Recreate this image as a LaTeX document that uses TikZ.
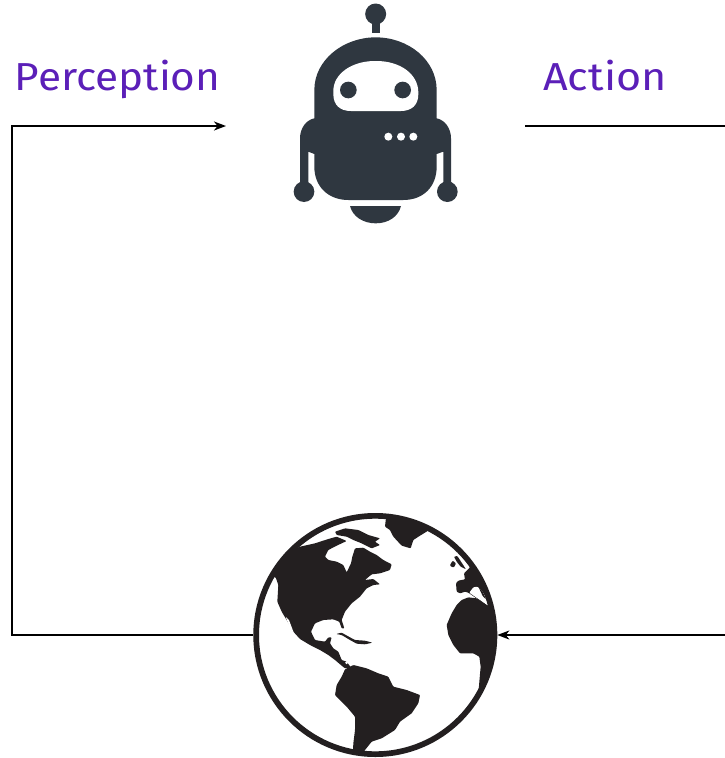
\documentclass[tikz,border=0pt]{standalone}
\usepackage{fontspec}
\usepackage{graphicx}
\setmainfont{Fira Sans}
\usetikzlibrary{arrows.meta}
\definecolor{robotc}{HTML}{2F3740}
\definecolor{earthc}{HTML}{231F20}
\definecolor{labelc}{HTML}{5B1FB8}
\tikzset{
  flow/.style={draw=black,line width=1.6pt},
  tip/.style={-{Stealth[length=12pt,width=9pt,inset=3.5pt]}},
  lab/.style={text=labelc,font=\fontsize{39}{41}\selectfont,inner sep=0pt,anchor=base west},
  land/.style={fill=earthc,draw=none,rounded corners=0.8pt},
  bot/.style={fill=robotc,draw=none},
  hole/.style={fill=white,draw=none,rounded corners=0.8pt},
  anchorbox/.style={minimum width=299pt,minimum height=200pt,inner sep=0pt,outer sep=0pt},
  ring/.style={circle,draw=earthc,line width=5.7pt,inner sep=0pt,minimum size=238.3pt}
}
\begin{document}
\begin{tikzpicture}[x=1pt,y=-1pt]
\path[use as bounding box,clip] (0,0) rectangle (725,758);
\fill[white] (0,0) rectangle (725,758);
% robot
\begin{scope}[shift={(280,0)},x=0.33333pt,y=-0.33333pt]
\fill[bot] (287,42) circle[radius=31.5pt*0.33333];
\fill[bot] (275,50) rectangle (299,99);
\fill[bot] (103,355) -- (103,270) .. controls (103,180) and (190,112) .. (287,112)
  .. controls (385,112) and (470,180) .. (470,270) -- (470,355)
  .. controls (495,360) and (513,385) .. (513,415) -- (513,560) -- (490,560) -- (490,455) -- (470,462) -- (470,500)
  .. controls (470,560) and (430,600) .. (370,600) -- (205,600)
  .. controls (145,600) and (103,560) .. (103,500) -- (103,462) -- (85,455) -- (85,560) -- (60,560) -- (60,415)
  .. controls (60,385) and (78,360) .. (103,355) -- cycle;
\fill[bot] (72,575) circle[radius=31pt*0.33333];
\fill[bot] (502,575) circle[radius=31pt*0.33333];
\fill[bot] (210,618) -- (363,618) .. controls (355,650) and (325,670) .. (287,670)
  .. controls (250,670) and (218,650) .. (210,618) -- cycle;
\fill[hole] (160,275) .. controls (160,222) and (215,183) .. (287,183)
  .. controls (360,183) and (415,222) .. (415,280)
  .. controls (415,315) and (395,333) .. (360,333) -- (215,333)
  .. controls (180,333) and (160,315) .. (160,280) -- cycle;
\fill[bot] (205,270) circle[radius=25pt*0.33333];
\fill[bot] (368,270) circle[radius=25pt*0.33333];
\fill[hole] (325,410) circle[radius=12pt*0.33333];
\fill[hole] (363,410) circle[radius=12pt*0.33333];
\fill[hole] (400,410) circle[radius=12pt*0.33333];
\end{scope}
% globe
\begin{scope}
\clip (375.3,635) circle[radius=120pt];
\begin{scope}[shift={(245,505)},x=0.33333pt,y=-0.33333pt]
% North America
\fill[land] (80,215) -- (92,217) -- (100,240) -- (97,290) -- (110,320) -- (125,345) -- (145,380) -- (165,402) -- (195,420) -- (225,435) -- (250,450) -- (270,465) -- (290,482) -- (300,490) -- (318,488) -- (305,470) -- (290,465) -- (280,440) -- (265,430) -- (255,415) -- (260,397) -- (250,397) -- (240,410) -- (210,405) -- (198,380) -- (210,355) -- (235,345) -- (265,343) -- (283,350) -- (290,370) -- (298,370) -- (290,345) -- (300,320) -- (320,295) -- (345,275) -- (365,250) -- (385,240) -- (405,238) -- (385,222) -- (360,225) -- (380,208) -- (405,205) -- (435,195) -- (440,178) -- (415,165) -- (395,150) -- (375,140) -- (355,128) -- (330,130) -- (322,155) -- (318,175) -- (305,202) -- (295,180) -- (275,170) -- (250,165) -- (240,155) -- (250,135) -- (275,122) -- (305,108) -- (275,95) -- (250,102) -- (210,115) -- (165,125) -- (100,150) -- cycle;
\fill[hole] (122,335) -- (132,345) -- (147,385) -- (133,365) -- cycle;
% Arctic islands
\fill[land] (270,80) -- (300,70) -- (340,75) -- (370,90) -- (405,100) -- (390,110) -- (405,120) -- (380,130) -- (350,115) -- (325,105) -- (305,95) -- (275,90) -- cycle;
% Greenland
\fill[land] (420,65) -- (425,20) -- (530,20) -- (548,78) -- (525,92) -- (505,105) -- (497,130) -- (470,122) -- (445,95) -- (435,75) -- cycle;
\end{scope}
% Caribbean and South America
\begin{scope}[shift={(300,610)},x=0.33333pt,y=-0.33333pt]
\fill[land] (108,72) -- (125,68) -- (150,82) -- (165,90) -- (195,92) -- (217,98) -- (195,103) -- (170,101) -- (150,90) -- (125,75) -- cycle;
\fill[land] (135,178) -- (160,165) -- (200,175) -- (235,190) -- (265,200) -- (280,230) -- (320,240) -- (360,255) -- (355,280) -- (335,310) -- (300,335) -- (285,360) -- (245,385) -- (215,395) -- (195,420) -- (175,450) -- (158,450) -- (160,400) -- (165,360) -- (165,320) -- (140,290) -- (105,255) -- (110,225) -- (125,200) -- cycle;
\fill[hole] (140,158) circle[radius=1.5pt];
\end{scope}
% Europe and Africa
\begin{scope}[shift={(440,550)},x=0.33333pt,y=-0.33333pt]
\fill[land] (30,45) -- (38,32) -- (48,40) -- (42,52) -- (33,50) -- cycle;
\fill[land] (42,20) -- (52,18) -- (65,38) -- (78,58) -- (62,50) -- (50,35) -- cycle;
\fill[land] (48,100) -- (55,92) -- (75,88) -- (72,70) -- (90,52) -- (85,35) -- (100,40) -- (180,100) -- (180,180) -- (145,170) -- (85,128) -- (75,125) -- (60,130) -- (50,125) -- cycle;
\fill[hole] (88,128) -- (100,112) -- (112,110) -- (125,122) -- (140,145) -- (150,172) -- (120,150) -- (105,140) -- cycle;
\fill[land] (116,112) -- (128,125) -- (138,148) -- (128,138) -- cycle;
\fill[land] (20,225) -- (35,190) -- (50,165) -- (65,150) -- (85,142) -- (110,145) -- (140,165) -- (165,175) -- (200,180) -- (200,400) -- (125,448) -- (115,432) -- (118,395) -- (122,350) -- (118,320) -- (100,310) -- (60,310) -- (40,285) -- (25,255) -- cycle;
\end{scope}
\end{scope}
% nodes
\node[ring] (globe) at (375.3,635) {};
\node[anchorbox] (robot) at (375.5,126) {};
\node[lab] (perception) at (14.5,90) {\scalebox{1.085}[1]{Perception}};
\node[lab] (action) at (543,90) {\scalebox{1.105}[1]{Action}};
\coordinate (lb) at (12,635);
\coordinate (lt) at (12,126);
\coordinate (rt) at (728,126);
\coordinate (rb) at (728,635);
\draw[flow,tip] (globe.west) -- (lb) -- (lt) -- (robot.west);
\draw[flow,tip] (robot.east) -- (rt) -- (rb) -- (globe.east);
\end{tikzpicture}
\end{document}
